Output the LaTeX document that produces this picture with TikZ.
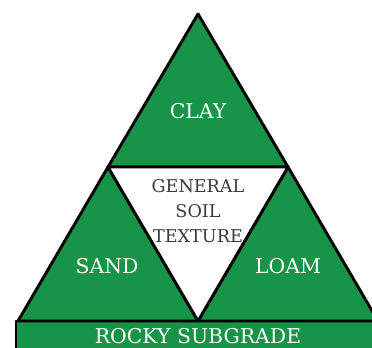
\documentclass[tikz,border=0pt]{standalone}
\usepackage{fontspec}
\setmainfont{DejaVu Serif}
\definecolor{soilgreen}{HTML}{179447}
\definecolor{soilgray}{HTML}{3A3A3A}
\tikzset{
  part/.style={fill=soilgreen, draw=black, line width=2.5pt, line join=round},
  core/.style={fill=white, draw=black, line width=2.5pt, line join=round},
  parttext/.style={text=white, font=\fontsize{17.4}{20}\selectfont},
  coretext/.style={text=soilgray, align=center, font=\fontsize{15}{21.3}\selectfont}
}
\begin{document}
\begin{tikzpicture}[x=0.03cm, y=-0.03cm]
  \useasboundingbox (0,0) rectangle (372,348);
  \clip (0,0) rectangle (372,348);
  % corners
  \coordinate (apex) at (198,14);
  \coordinate (midL) at (108,167);
  \coordinate (midR) at (288,167);
  \coordinate (baseL) at (18,321);
  \coordinate (baseM) at (198,321);
  \coordinate (baseR) at (378,321);

  % subgrade
  \draw [part] (16,321) rectangle (390,370);
  \node [parttext] (rocky) at (198,336) {ROCKY SUBGRADE};

  % outer triangles
  \draw [part] (apex) -- (midL) -- (midR) -- cycle;
  \draw [part] (midL) -- (baseL) -- (baseM) -- cycle;
  \draw [part] (midR) -- (baseM) -- (baseR) -- cycle;
  \draw [core] (midL) -- (midR) -- (baseM) -- cycle;

  % labels
  \node [parttext] (clay) at (198,111) {CLAY};
  \node [parttext] (sand) at (107,266) {SAND};
  \node [parttext] (loam) at (288,266) {LOAM};
  \node [coretext] (texture) at (198,211) {GENERAL\\SOIL\\TEXTURE};
\end{tikzpicture}
\end{document}
